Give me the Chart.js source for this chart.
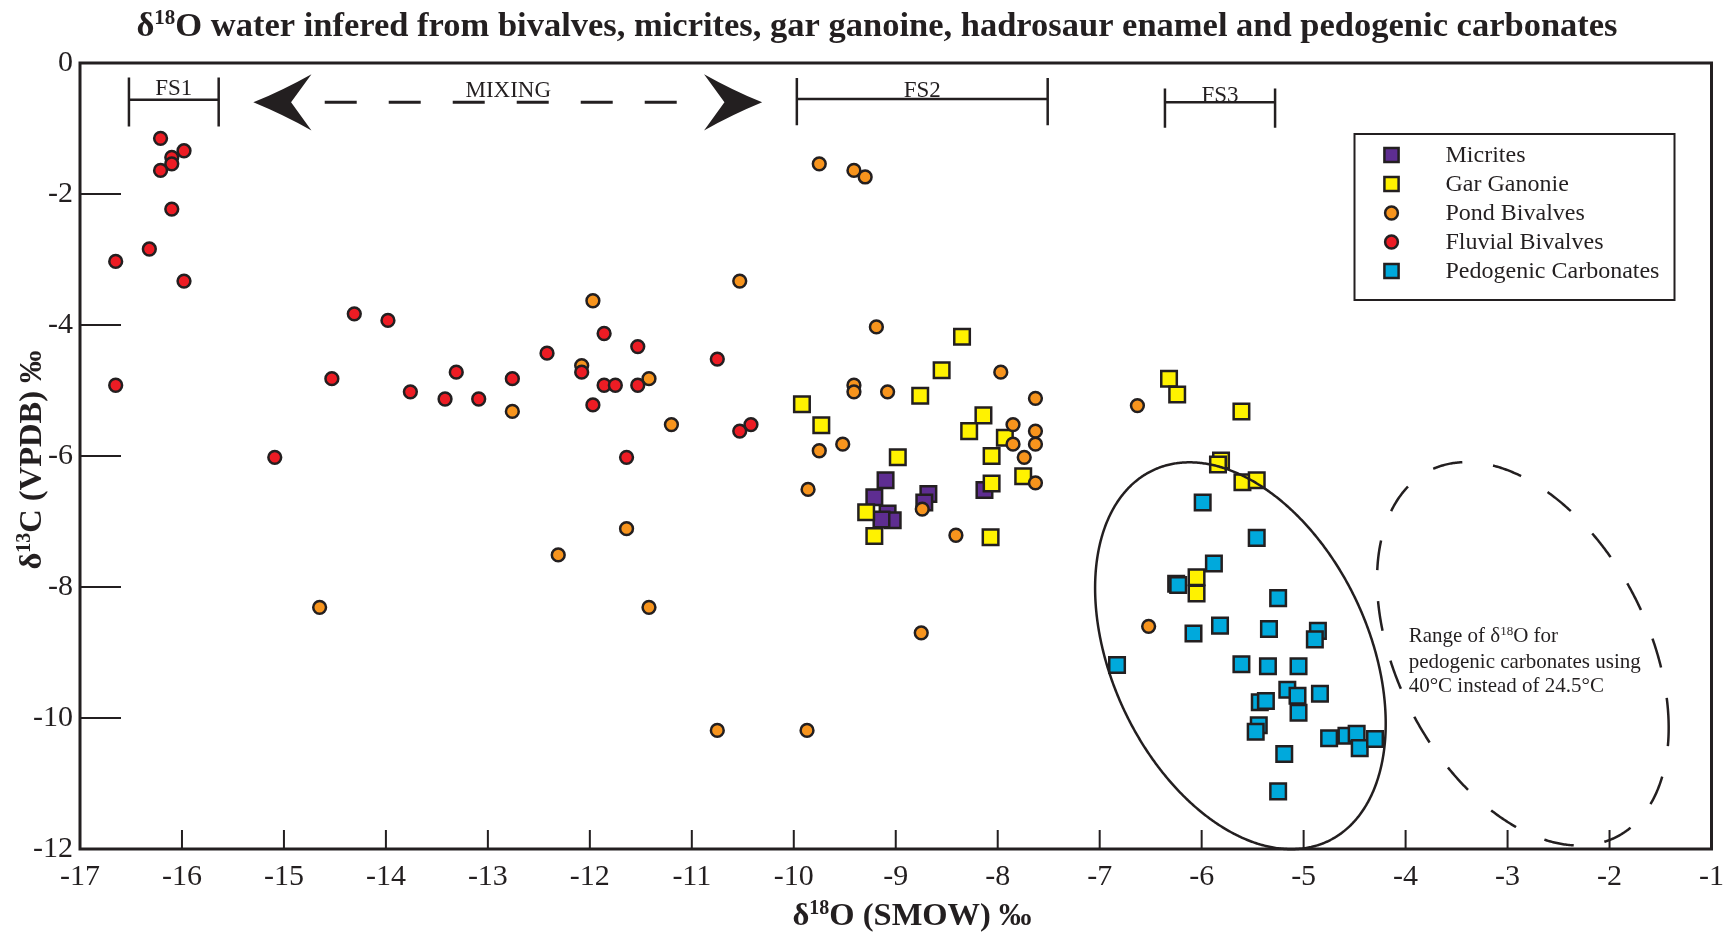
<!DOCTYPE html>
<html>
<head>
<meta charset="utf-8">
<script src="https://cdn.jsdelivr.net/npm/chart.js@4/dist/chart.umd.min.js"></script>
<style>
  html, body { margin: 0; padding: 0; background: #ffffff; }
  #c { display: block; }
</style>
</head>
<body>
<canvas id="c" width="1734" height="933"></canvas>
<script>
// ---- data: [δ18O (SMOW), δ13C (VPDB)] ----
const seriesNames = ['Micrites', 'Gar Ganonie', 'Pond Bivalves', 'Fluvial Bivalves', 'Pedogenic Carbonates'];

const micrites = [
  [-9.10, -6.37], [-9.21, -6.63], [-8.68, -6.58], [-8.72, -6.71],
  [-9.08, -6.88], [-9.03, -6.98], [-9.14, -6.97], [-8.13, -6.52]
];

const garGanoine = [
  [-8.35, -4.18], [-8.55, -4.69], [-8.76, -5.08], [-9.92, -5.21], [-9.73, -5.53],
  [-8.14, -5.38], [-8.28, -5.62], [-7.93, -5.72], [-8.06, -6.00], [-7.75, -6.31],
  [-8.06, -6.42], [-8.98, -6.02], [-9.29, -6.86], [-9.21, -7.22], [-8.07, -7.24],
  [-6.32, -4.82], [-6.24, -5.06], [-5.61, -5.32], [-5.81, -6.07], [-5.84, -6.13],
  [-5.60, -6.40], [-5.46, -6.37], [-6.05, -7.85], [-6.05, -8.10]
];

const pondBivalves = [
  [-9.75, -1.54], [-9.41, -1.64], [-9.30, -1.74], [-10.53, -3.33], [-11.97, -3.63],
  [-9.19, -4.03], [-7.97, -4.72], [-9.41, -4.92], [-9.41, -5.02], [-9.08, -5.02],
  [-7.63, -5.12], [-12.08, -4.62], [-11.42, -4.82], [-12.76, -5.32], [-11.20, -5.52],
  [-7.85, -5.52], [-7.63, -5.62], [-7.85, -5.82], [-7.63, -5.82], [-9.52, -5.82],
  [-9.75, -5.92], [-7.74, -6.02], [-7.63, -6.41], [-9.86, -6.51], [-8.74, -6.81],
  [-8.41, -7.21], [-11.64, -7.11], [-12.31, -7.51], [-14.65, -8.31], [-11.42, -8.31],
  [-8.75, -8.70], [-10.75, -10.19], [-9.87, -10.19], [-6.63, -5.23], [-6.52, -8.60]
];

const fluvialBivalves = [
  [-16.21, -1.15], [-15.98, -1.34], [-16.10, -1.44], [-16.10, -1.54], [-16.21, -1.64],
  [-16.10, -2.23], [-16.32, -2.84], [-16.65, -3.03], [-15.98, -3.33], [-16.65, -4.92],
  [-14.31, -3.83], [-13.98, -3.93], [-14.53, -4.82], [-13.76, -5.02], [-13.42, -5.13],
  [-13.09, -5.13], [-13.31, -4.72], [-12.76, -4.82], [-12.42, -4.43], [-11.86, -4.13],
  [-12.08, -4.72], [-11.53, -4.33], [-11.86, -4.92], [-11.75, -4.92], [-11.53, -4.92],
  [-11.97, -5.22], [-10.75, -4.52], [-10.53, -5.62], [-10.42, -5.52], [-15.09, -6.02],
  [-11.64, -6.02]
];

const pedogenicCarbonates = [
  [-5.99, -6.71], [-5.46, -7.25], [-5.88, -7.64], [-6.25, -7.95], [-6.23, -7.97],
  [-5.25, -8.17], [-6.08, -8.71], [-5.82, -8.59], [-5.34, -8.64], [-4.86, -8.67],
  [-4.89, -8.80], [-6.83, -9.19], [-5.61, -9.18], [-5.35, -9.21], [-5.05, -9.21],
  [-5.16, -9.57], [-5.06, -9.66], [-4.84, -9.63], [-5.43, -9.76], [-5.37, -9.74],
  [-5.05, -9.92], [-5.44, -10.11], [-5.47, -10.21], [-4.75, -10.31], [-4.58, -10.27],
  [-4.48, -10.24], [-4.45, -10.46], [-4.30, -10.32], [-5.19, -10.55], [-5.25, -11.12]
];

const xTicks = [-17, -16, -15, -14, -13, -12, -11, -10, -9, -8, -7, -6, -5, -4, -3, -2, -1];
const yTicks = [0, -2, -4, -6, -8, -10, -12];

// ---- figure annotations, in axis units ----
const fieldSites = [
  { label: 'FS1', x0: -16.52, x1: -15.64, top: -0.22, bottom: -0.97, bar: -0.56, textY: -0.49 },
  { label: 'FS2', x0: -9.97,  x1: -7.51,  top: -0.23, bottom: -0.95, bar: -0.55, textY: -0.52 },
  { label: 'FS3', x0: -6.36,  x1: -5.28,  top: -0.39, bottom: -0.99, bar: -0.60, textY: -0.59 }
];
const mixing = { label: 'MIXING', left: -15.30, right: -10.31, y: -0.60, head: 0.57, notch: 0.37,
                 half: 0.43, dashFrom: -14.60, dashTo: -10.94, textX: -12.80, textY: -0.52 };
// ellipse: x = cx + ux·cos t,  y = cy + uy·cos t + vy·sin t
const rangeEllipse24 = { cx: -5.62, cy: -9.05, ux: 1.425, uy: -1.035, vy: 2.766 };
const rangeEllipse40 = { cx: -2.85, cy: -9.02, ux: 1.43,  uy: -1.13,  vy: 2.70 };
const rangeNote = { x: -3.97, lines: [
  { y: -8.835, parts: [['Range of δ', 0], ['18', 1], ['O for', 0]] },
  { y: -9.24,  parts: [['pedogenic carbonates using', 0]] },
  { y: -9.61,  parts: [['40°C instead of 24.5°C', 0]] }
]};

const titleParts  = [['δ', 0], ['18', 1], ['O water infered from bivalves, micrites, gar ganoine, hadrosaur enamel and pedogenic carbonates', 0]];
const xTitleParts = [['δ', 0], ['18', 1], ['O (SMOW) ‰', 0]];
const yTitleParts = [['δ', 0], ['13', 1], ['C (VPDB) ‰', 0]];

const INK = '#231f20';
const SERIF = '"Liberation Serif", "Times New Roman", serif';

function drawRich(ctx, parts, x, y, size, weight, align) {
  const supSize = Math.round(size * 0.62);
  const widths = parts.map(([t, s]) => {
    ctx.font = `${weight} ${s ? supSize : size}px ${SERIF}`;
    return ctx.measureText(t).width;
  });
  const total = widths.reduce((a, b) => a + b, 0);
  let cx = align === 'center' ? x - total / 2 : (align === 'right' ? x - total : x);
  ctx.textAlign = 'left';
  ctx.textBaseline = 'alphabetic';
  parts.forEach(([t, s], i) => {
    ctx.font = `${weight} ${s ? supSize : size}px ${SERIF}`;
    ctx.fillText(t, cx, s ? y - size * 0.34 : y);
    cx += widths[i];
  });
}

function ellipsePath(ctx, X, Y, e) {
  ctx.beginPath();
  for (let i = 0; i <= 720; i++) {
    const t = i * Math.PI / 360;
    const px = X(e.cx + e.ux * Math.cos(t));
    const py = Y(e.cy + e.uy * Math.cos(t) + e.vy * Math.sin(t));
    if (i === 0) ctx.moveTo(px, py); else ctx.lineTo(px, py);
  }
  ctx.closePath();
}

function arrowHead(ctx, X, Y, tipX, dir, m) {
  // dir = +1 points left (back lies to the right), -1 points right
  const tip = [X(tipX), Y(m.y)];
  const backX = X(tipX + dir * m.head);
  const notch = [X(tipX + dir * m.notch), Y(m.y)];
  const top = [backX, Y(m.y + m.half)];
  const bot = [backX, Y(m.y - m.half)];
  const bend = (p) => [(tip[0] + p[0]) / 2 + (notch[0] - (tip[0] + p[0]) / 2) * 0.12,
                       (tip[1] + p[1]) / 2 + (tip[1] - (tip[1] + p[1]) / 2) * 0.12];
  const c1 = bend(top), c2 = bend(bot);
  ctx.beginPath();
  ctx.moveTo(tip[0], tip[1]);
  ctx.quadraticCurveTo(c1[0], c1[1], top[0], top[1]);
  ctx.lineTo(notch[0], notch[1]);
  ctx.lineTo(bot[0], bot[1]);
  ctx.quadraticCurveTo(c2[0], c2[1], tip[0], tip[1]);
  ctx.closePath();
  ctx.fill();
}

const decor = {
  id: 'decor',
  beforeDraw(chart) {
    const c = chart.ctx;
    c.save();
    c.fillStyle = '#ffffff';
    c.fillRect(0, 0, chart.width, chart.height);
    c.restore();
  },
  afterDatasetsDraw(chart) {
    const { ctx, chartArea: a } = chart;
    const xs = chart.scales.x, ys = chart.scales.y;
    const X = v => xs.getPixelForValue(v), Y = v => ys.getPixelForValue(v);
    ctx.save();
    ctx.strokeStyle = INK;
    ctx.fillStyle = INK;
    ctx.lineCap = 'butt';

    // inward tick marks
    ctx.lineWidth = 2;
    ctx.beginPath();
    xTicks.forEach(v => { ctx.moveTo(X(v), a.bottom); ctx.lineTo(X(v), a.bottom - 19); });
    yTicks.forEach(v => { ctx.moveTo(a.left, Y(v)); ctx.lineTo(a.left + 41, Y(v)); });
    ctx.stroke();

    // frame
    ctx.lineWidth = 3;
    ctx.strokeRect(a.left, a.top, a.right - a.left, a.bottom - a.top);

    // field-site brackets
    ctx.lineWidth = 2.5;
    fieldSites.forEach(f => {
      ctx.beginPath();
      ctx.moveTo(X(f.x0), Y(f.top)); ctx.lineTo(X(f.x0), Y(f.bottom));
      ctx.moveTo(X(f.x1), Y(f.top)); ctx.lineTo(X(f.x1), Y(f.bottom));
      ctx.moveTo(X(f.x0), Y(f.bar)); ctx.lineTo(X(f.x1), Y(f.bar));
      ctx.stroke();
      ctx.font = `23px ${SERIF}`;
      ctx.textAlign = 'center';
      ctx.textBaseline = 'alphabetic';
      ctx.fillText(f.label, (X(f.x0) + X(f.x1)) / 2, Y(f.textY));
    });

    // mixing arrow
    ctx.lineWidth = 3;
    ctx.setLineDash([32, 32]);
    ctx.beginPath();
    ctx.moveTo(X(mixing.dashFrom), Y(mixing.y));
    ctx.lineTo(X(mixing.dashTo), Y(mixing.y));
    ctx.stroke();
    ctx.setLineDash([]);
    arrowHead(ctx, X, Y, mixing.left, 1, mixing);
    arrowHead(ctx, X, Y, mixing.right, -1, mixing);
    ctx.font = `23px ${SERIF}`;
    ctx.textAlign = 'center';
    ctx.fillText(mixing.label, X(mixing.textX), Y(mixing.textY));

    // range ellipses
    ctx.lineWidth = 2.5;
    ellipsePath(ctx, X, Y, rangeEllipse24);
    ctx.stroke();
    ctx.setLineDash([30, 31]);
    ellipsePath(ctx, X, Y, rangeEllipse40);
    ctx.stroke();
    ctx.setLineDash([]);

    rangeNote.lines.forEach(l => drawRich(ctx, l.parts, X(rangeNote.x), Y(l.y), 21, 'normal', 'left'));
    ctx.restore();
  },
  afterDraw(chart) {
    const { ctx, chartArea: a } = chart;
    ctx.save();
    ctx.fillStyle = INK;
    ctx.strokeStyle = INK;

    // titles
    drawRich(ctx, titleParts, 877, 36, 34.5, 'bold', 'center');
    drawRich(ctx, xTitleParts, 912, 925, 32.5, 'bold', 'center');
    ctx.save();
    ctx.translate(41, (a.top + a.bottom) / 2 + 4);
    ctx.rotate(-Math.PI / 2);
    drawRich(ctx, yTitleParts, 0, 0, 32.5, 'bold', 'center');
    ctx.restore();

    // legend box
    const lx = a.right - 357, ly = a.top + 71, lw = 320, lh = 166;
    ctx.fillStyle = '#ffffff';
    ctx.fillRect(lx, ly, lw, lh);
    ctx.lineWidth = 2;
    ctx.strokeRect(lx, ly, lw, lh);
    chart.data.datasets.forEach((ds, i) => {
      const cy = ly + 21 + i * 29;
      const mx = lx + 37;
      ctx.fillStyle = ds.pointBackgroundColor;
      ctx.strokeStyle = INK;
      ctx.lineWidth = 2.5;
      ctx.beginPath();
      if (ds.pointStyle === 'rect') ctx.rect(mx - 7.1, cy - 7.1, 14.2, 14.2);
      else ctx.arc(mx, cy, 6.4, 0, Math.PI * 2);
      ctx.fill();
      ctx.stroke();
      ctx.fillStyle = INK;
      ctx.font = `24px ${SERIF}`;
      ctx.textAlign = 'left';
      ctx.textBaseline = 'middle';
      ctx.fillText(ds.label, lx + 91, cy + 1);
    });
    ctx.restore();
  }
};

function series(label, pts, style, radius, fill, order) {
  return {
    label,
    data: pts.map(([x, y]) => ({ x, y })),
    showLine: false,
    pointStyle: style,
    pointRadius: radius,
    pointHoverRadius: radius,
    pointBackgroundColor: fill,
    pointBorderColor: INK,
    pointBorderWidth: 2.5,
    pointHoverBorderWidth: 2.5,
    order
  };
}

new Chart(document.getElementById('c'), {
  type: 'scatter',
  data: {
    datasets: [
      series(seriesNames[0], micrites,            'rect',   11,  '#5e2d91', 5),
      series(seriesNames[1], garGanoine,          'rect',   11,  '#fff200', 3),
      series(seriesNames[2], pondBivalves,        'circle', 6.4, '#f7941d', 2),
      series(seriesNames[3], fluvialBivalves,     'circle', 6.4, '#ed1c24', 1),
      series(seriesNames[4], pedogenicCarbonates, 'rect',   11,  '#00a9dc', 4)
    ]
  },
  options: {
    responsive: false,
    animation: false,
    devicePixelRatio: 1,
    events: [],
    layout: { padding: { top: 63, right: 20, bottom: 0, left: 0 } },
    plugins: { legend: { display: false }, tooltip: { enabled: false }, title: { display: false } },
    scales: {
      x: {
        type: 'linear', min: -17, max: -1,
        afterBuildTicks: s => { s.ticks = xTicks.map(v => ({ value: v })); },
        afterFit: s => { s.height = 84; },
        grid: { display: false, drawTicks: false },
        border: { display: false },
        ticks: { autoSkip: false, maxRotation: 0, padding: 10, color: INK,
                 font: { family: SERIF, size: 30 }, callback: v => String(v) }
      },
      y: {
        type: 'linear', min: -12, max: 0,
        afterBuildTicks: s => { s.ticks = yTicks.map(v => ({ value: v })); },
        afterFit: s => { s.width = 80; },
        grid: { display: false, drawTicks: false },
        border: { display: false },
        ticks: { autoSkip: false, padding: 7, color: INK,
                 font: { family: SERIF, size: 30 }, callback: v => String(v) }
      }
    }
  },
  plugins: [decor]
});
</script>
</body>
</html>
